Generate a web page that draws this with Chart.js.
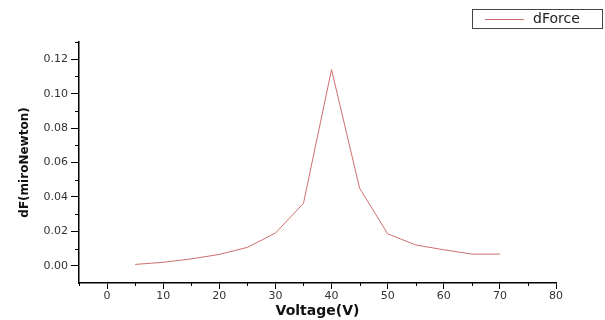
<!DOCTYPE html>
<html>
<head>
<meta charset="utf-8">
<script src="https://cdn.jsdelivr.net/npm/chart.js@4/dist/chart.umd.min.js"></script>
<style>
  html, body { margin: 0; padding: 0; background: #fff; }
  #wrap { width: 605px; height: 320px; position: relative; }
</style>
</head>
<body>
<div id="wrap"><canvas id="myChart"></canvas></div>
<script>
// data
var voltage = [5, 10, 15, 20, 25, 30, 35, 40, 45, 50, 55, 60, 65, 70];
var dForce = [0.0008, 0.002, 0.004, 0.0066, 0.0107, 0.019, 0.0363, 0.114, 0.0451, 0.0186, 0.0121, 0.0093, 0.0068, 0.0068];

// tick values
var xTicks = [0, 10, 20, 30, 40, 50, 60, 70, 80];
var xMinor = [-5, 5, 15, 25, 35, 45, 55, 65, 75];
var yTicks = [0, 0.02, 0.04, 0.06, 0.08, 0.10, 0.12];
var yMinor = [0.01, 0.03, 0.05, 0.07, 0.09, 0.11, 0.13];

var lineColor = 'rgb(208,110,110)';
var fontName = "'DejaVu Sans', sans-serif";

// small ticks between the big ones + legend box
var extras = {
    id: 'extras',
    afterDraw: function(chart) {
        var ctx = chart.ctx;
        var xs = chart.scales.x, ys = chart.scales.y;
        var area = chart.chartArea;
        ctx.save();
        ctx.strokeStyle = '#000';
        ctx.lineWidth = 1;
        ctx.beginPath();
        for (var i = 0; i < xMinor.length; i++) {
            var px = Math.round(xs.getPixelForValue(xMinor[i])) + 0.5;
            ctx.moveTo(px, area.bottom);
            ctx.lineTo(px, area.bottom + 3);
        }
        for (var j = 0; j < yMinor.length; j++) {
            var py = Math.round(ys.getPixelForValue(yMinor[j])) + 0.5;
            ctx.moveTo(area.left, py);
            ctx.lineTo(area.left - 4, py);
        }
        ctx.stroke();

        // legend
        ctx.strokeStyle = '#444';
        ctx.strokeRect(472.5, 9.5, 130, 19);
        ctx.strokeStyle = lineColor;
        ctx.beginPath();
        ctx.moveTo(485, 19.5);
        ctx.lineTo(524, 19.5);
        ctx.stroke();
        ctx.fillStyle = '#222';
        ctx.font = "14px " + fontName;
        ctx.textBaseline = 'middle';
        ctx.fillText(chart.data.datasets[0].label, 533, 19.5);
        ctx.restore();
    }
};

var ctx = document.getElementById('myChart').getContext('2d');
var chart = new Chart(ctx, {
    type: 'line',
    data: {
        datasets: [{
            label: 'dForce',
            data: voltage.map(function(v, i) { return {x: v, y: dForce[i]}; }),
            borderColor: lineColor,
            borderWidth: 1,
            pointRadius: 0,
            tension: 0,
            fill: false
        }]
    },
    options: {
        responsive: true,
        maintainAspectRatio: false,
        animation: false,
        layout: { padding: { left: 0, right: 49, top: 42, bottom: 0 } },
        plugins: {
            legend: { display: false },
            tooltip: { enabled: false }
        },
        scales: {
            x: {
                type: 'linear',
                min: -5,
                max: 80,
                afterFit: function(scale) { scale.height = 37; },
                afterBuildTicks: function(scale) {
                    scale.ticks = xTicks.map(function(v) { return {value: v}; });
                },
                grid: { drawOnChartArea: false, color: '#000', tickLength: 6, tickWidth: 1 },
                border: { color: '#000', width: 1.5 },
                ticks: {
                    padding: 1,
                    color: '#333',
                    maxRotation: 0,
                    font: { family: fontName, size: 11 },
                    callback: function(v) { return v; }
                },
                title: {
                    display: true,
                    text: 'Voltage(V)',
                    color: '#111',
                    padding: { top: 0, bottom: 0 },
                    font: { family: fontName, size: 14, weight: 'bold' }
                }
            },
            y: {
                type: 'linear',
                min: -0.01,
                max: 0.13,
                afterFit: function(scale) { scale.width = 79; },
                afterBuildTicks: function(scale) {
                    scale.ticks = yTicks.map(function(v) { return {value: v}; });
                },
                grid: { drawOnChartArea: false, color: '#000', tickLength: 8, tickWidth: 1 },
                border: { color: '#000', width: 1.5 },
                ticks: {
                    padding: 3,
                    color: '#333',
                    font: { family: fontName, size: 11 },
                    callback: function(v) { return v.toFixed(2); }
                },
                title: {
                    display: true,
                    text: 'dF(miroNewton)',
                    color: '#111',
                    padding: { top: 18, bottom: 0 },
                    font: { family: fontName, size: 12, weight: 'bold' }
                }
            }
        }
    },
    plugins: [extras]
});
</script>
</body>
</html>
